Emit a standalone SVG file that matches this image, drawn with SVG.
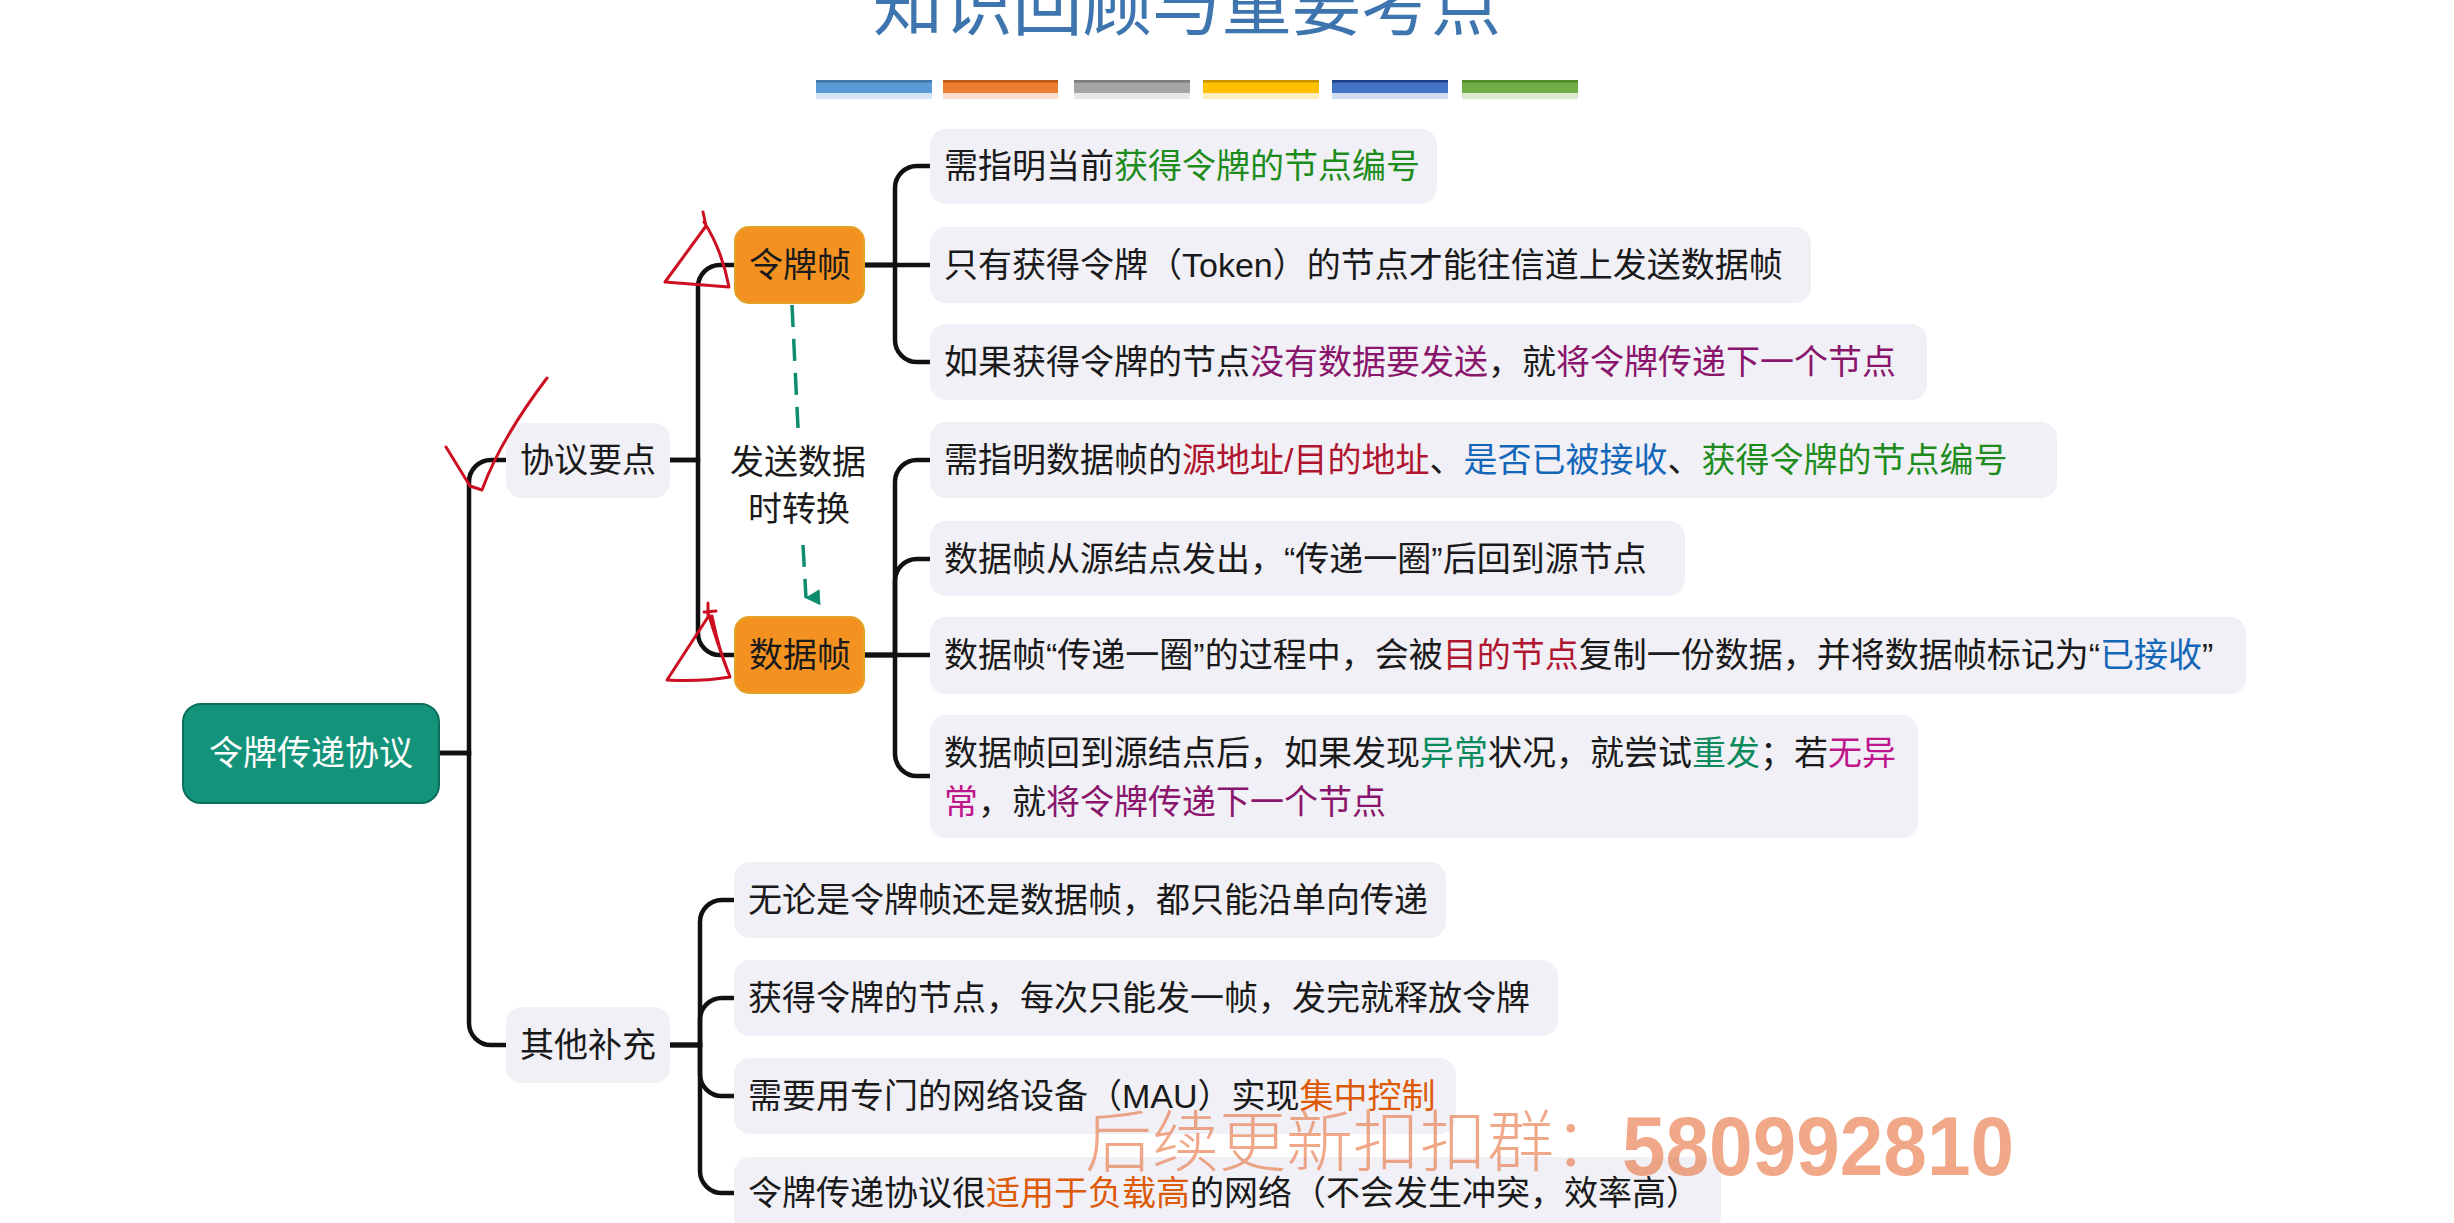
<svg xmlns="http://www.w3.org/2000/svg" width="2454" height="1223" viewBox="0 0 2454 1223">
<defs>
<style>
.t{font-family:"Liberation Sans","Noto Sans CJK SC",sans-serif;font-size:34px;fill:#1a1a1a}
.leaf{fill:#f1f0f6}
.c{fill:none;stroke:#111;stroke-width:4.5}
.red{fill:none;stroke:#cc1022;stroke-width:3;stroke-linecap:round;stroke-linejoin:round}
.g{fill:#1d8c1d}.r{fill:#b01530}.b{fill:#1466b8}.p{fill:#8a156c}.m{fill:#c0168c}.tg{fill:#0b8a5c}.o{fill:#dc5a08}
.orange{fill:#f39221;stroke:#e3a227;stroke-width:2}
</style>
<marker id="ah" markerWidth="18" markerHeight="18" refX="9" refY="15" orient="auto-start-reverse" markerUnits="userSpaceOnUse" viewBox="0 0 18 18">
<path d="M1,1 L17,1 L9,16 Z" fill="#0e8c6e"/>
</marker>
</defs>
<rect width="2454" height="1223" fill="#ffffff"/>

<!-- title -->
<g id="title">
<text x="873" y="30" font-family="Noto Sans CJK SC,sans-serif" font-size="70" fill="#3e75ae" textLength="628">知识回顾与重要考点</text>
<g>
<rect x="816" y="80" width="116" height="13" fill="#5b9bd5"/><rect x="816" y="80" width="116" height="2.5" fill="#3f78a8"/><rect x="816" y="93" width="116" height="6" fill="#5b9bd5" opacity="0.25"/>
<rect x="943" y="80" width="115" height="13" fill="#ed7d31"/><rect x="943" y="80" width="115" height="2.5" fill="#b85a1c"/><rect x="943" y="93" width="115" height="6" fill="#ed7d31" opacity="0.25"/>
<rect x="1074" y="80" width="116" height="13" fill="#a5a5a5"/><rect x="1074" y="80" width="116" height="2.5" fill="#7d7d7d"/><rect x="1074" y="93" width="116" height="6" fill="#a5a5a5" opacity="0.25"/>
<rect x="1203" y="80" width="116" height="13" fill="#ffc000"/><rect x="1203" y="80" width="116" height="2.5" fill="#c79400"/><rect x="1203" y="93" width="116" height="6" fill="#ffc000" opacity="0.25"/>
<rect x="1332" y="80" width="116" height="13" fill="#4472c4"/><rect x="1332" y="80" width="116" height="2.5" fill="#1f3f86"/><rect x="1332" y="93" width="116" height="6" fill="#4472c4" opacity="0.25"/>
<rect x="1462" y="80" width="116" height="13" fill="#70ad47"/><rect x="1462" y="80" width="116" height="2.5" fill="#4d8a2a"/><rect x="1462" y="93" width="116" height="6" fill="#70ad47" opacity="0.25"/>
</g>
</g>

<!-- connectors -->
<g id="connectors">
<path class="c" d="M439,753 H469 V482 A22,22 0 0 1 491,460 H506"/>
<path class="c" d="M439,753 H469 V1023 A22,22 0 0 0 491,1045 H506"/>
<path class="c" d="M670,460 H698 V287 A22,22 0 0 1 720,265 H735"/>
<path class="c" d="M670,460 H698 V633 A22,22 0 0 0 720,655 H735"/>
<path class="c" d="M864,265 H895 V188 A22,22 0 0 1 917,166 H930"/>
<path class="c" d="M864,265 H930"/>
<path class="c" d="M864,265 H895 V340 A22,22 0 0 0 917,362 H930"/>
<path class="c" d="M864,655 H895 V482 A22,22 0 0 1 917,460 H930"/>
<path class="c" d="M864,655 H895 V581 A22,22 0 0 1 917,559 H930"/>
<path class="c" d="M864,655 H930"/>
<path class="c" d="M864,655 H895 V754 A22,22 0 0 0 917,776 H930"/>
<path class="c" d="M670,1045 H700 V922 A22,22 0 0 1 722,900 H734"/>
<path class="c" d="M670,1045 H700 V1020 A22,22 0 0 1 722,998 H734"/>
<path class="c" d="M670,1045 H700 V1074 A22,22 0 0 0 722,1096 H734"/>
<path class="c" d="M670,1045 H700 V1171 A22,22 0 0 0 722,1193 H734"/>
<path d="M792,305 L798,428" fill="none" stroke="#0e8c6e" stroke-width="3.5" stroke-dasharray="22 12"/>
<path d="M803,545 L806,598" fill="none" stroke="#0e8c6e" stroke-width="3.5" stroke-dasharray="22 12" marker-end="url(#ah)"/>
<text class="t" x="798" y="474" font-size="31" text-anchor="middle">发送数据</text>
<text class="t" x="799" y="521" font-size="31" text-anchor="middle">时转换</text>
</g>

<!-- nodes -->
<g id="root">
<rect x="183" y="704" width="256" height="99" rx="18" fill="#13937a" stroke="#0b6e5b" stroke-width="2"/>
<text class="t" x="311" y="765" text-anchor="middle" style="fill:#ffffff">令牌传递协议</text>
</g>
<g id="n-xieyi">
<rect class="leaf" x="506" y="423" width="164" height="75" rx="16"/>
<text class="t" x="588" y="472" text-anchor="middle">协议要点</text>
</g>
<g id="n-qita">
<rect class="leaf" x="506" y="1007" width="164" height="76" rx="16"/>
<text class="t" x="588" y="1057" text-anchor="middle">其他补充</text>
</g>
<g id="n-lingpai">
<rect class="orange" x="735" y="227" width="129" height="76" rx="14"/>
<text class="t" x="800" y="277" text-anchor="middle">令牌帧</text>
</g>
<g id="n-shuju">
<rect class="orange" x="735" y="617" width="129" height="76" rx="14"/>
<text class="t" x="800" y="667" text-anchor="middle">数据帧</text>
</g>

<g id="leaf-t1">
<rect class="leaf" x="930" y="129" width="507" height="75" rx="16"/>
<text class="t" x="944" y="178">需指明当前<tspan class="g">获得令牌的节点编号</tspan></text>
</g>
<g id="leaf-t2">
<rect class="leaf" x="930" y="227" width="881" height="76" rx="16"/>
<text class="t" x="944" y="277">只有获得令牌（Token）的节点才能往信道上发送数据帧</text>
</g>
<g id="leaf-t3">
<rect class="leaf" x="930" y="324" width="997" height="76" rx="16"/>
<text class="t" x="944" y="374">如果获得令牌的节点<tspan class="p">没有数据要发送</tspan>，就<tspan class="p">将令牌传递下一个节点</tspan></text>
</g>
<g id="leaf-d1">
<rect class="leaf" x="930" y="422" width="1127" height="76" rx="16"/>
<text class="t" x="944" y="472">需指明数据帧的<tspan class="r">源地址/目的地址</tspan>、<tspan class="b">是否已被接收</tspan>、<tspan class="g">获得令牌的节点编号</tspan></text>
</g>
<g id="leaf-d2">
<rect class="leaf" x="930" y="521" width="755" height="75" rx="16"/>
<text class="t" x="944" y="571">数据帧从源结点发出，“传递一圈”后回到源节点</text>
</g>
<g id="leaf-d3">
<rect class="leaf" x="930" y="617" width="1316" height="77" rx="16"/>
<text class="t" x="944" y="667">数据帧“传递一圈”的过程中，会被<tspan class="r">目的节点</tspan>复制一份数据，并将数据帧标记为“<tspan class="b">已接收</tspan>”</text>
</g>
<g id="leaf-d4">
<rect class="leaf" x="930" y="715" width="988" height="123" rx="16"/>
<text class="t" x="944" y="765">数据帧回到源结点后，如果发现<tspan class="tg">异常</tspan>状况，就尝试<tspan class="tg">重发</tspan>；若<tspan class="m">无异</tspan></text>
<text class="t" x="944" y="814"><tspan class="m">常</tspan>，就<tspan class="p">将令牌传递下一个节点</tspan></text>
</g>
<g id="leaf-o1">
<rect class="leaf" x="734" y="862" width="712" height="76" rx="16"/>
<text class="t" x="748" y="912">无论是令牌帧还是数据帧，都只能沿单向传递</text>
</g>
<g id="leaf-o2">
<rect class="leaf" x="734" y="960" width="824" height="76" rx="16"/>
<text class="t" x="748" y="1010">获得令牌的节点，每次只能发一帧，发完就释放令牌</text>
</g>
<g id="leaf-o3">
<rect class="leaf" x="734" y="1058" width="722" height="76" rx="16"/>
<text class="t" x="748" y="1108">需要用专门的网络设备（MAU）实现<tspan class="o">集中控制</tspan></text>
</g>
<g id="leaf-o4">
<rect class="leaf" x="734" y="1157" width="987" height="76" rx="16"/>
<text class="t" x="748" y="1205">令牌传递协议很<tspan class="o">适用于负载高</tspan>的网络（不会发生冲突，效率高）</text>
</g>

<!-- watermark -->
<g id="watermark" opacity="0.6">
<text x="1085" y="1166" font-family="Noto Sans CJK SC,sans-serif" font-weight="300" font-size="67" fill="#e8703c">后续更新扣扣群：</text>
<text x="1622" y="1175" font-family="Liberation Sans,sans-serif" font-weight="bold" font-size="84" fill="#e8703c" textLength="392" lengthAdjust="spacingAndGlyphs">580992810</text>
</g>

<!-- red hand annotations -->
<g id="annotations">
<path class="red" d="M446,447 L470,486 L482,490 Q500,440 547,378"/>
<path class="red" d="M703,212 L706,226 L665,282 L729,287 Q722,250 704,222"/>
<path class="red" d="M708,603 L708,617 L667,680 Q700,682 730,677 Q716,640 708,612 M712,616 Q719,650 728,672 M704,612 L716,611"/>
</g>
</svg>
